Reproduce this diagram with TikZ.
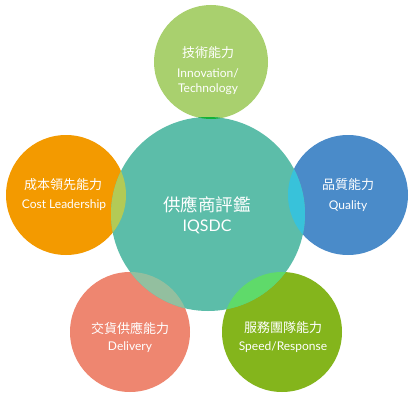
\documentclass[tikz,border=0pt]{standalone}
\usepackage{fontspec}
\setmainfont{Lato}
\newfontfamily\cjk{Noto Sans CJK TC}
\definecolor{cTop}{HTML}{A9D06E}
\definecolor{cTopO}{HTML}{12B13A}
\definecolor{cMid}{HTML}{5CBDA9}
\definecolor{cLeft}{HTML}{F39A00}
\definecolor{cLeftO}{HTML}{B3CA56}
\definecolor{cRight}{HTML}{4A8BC9}
\definecolor{cRightO}{HTML}{38C2DA}
\definecolor{cBL}{HTML}{EE8670}
\definecolor{cBLO}{HTML}{93BF9F}
\definecolor{cBR}{HTML}{84B51C}
\definecolor{cBRO}{HTML}{5FDA6A}
\tikzset{
  zh/.style={text=white, font=\cjk\fontsize{13}{15}\selectfont, inner sep=0pt},
  en/.style={text=white, font=\fontsize{12}{14}\selectfont, inner sep=0pt},
}
\begin{document}
\begin{tikzpicture}[x=1pt,y=-1pt]
\useasboundingbox (0,0) rectangle (420,420);
\fill[white] (0,0) rectangle (420,420);
% circles
\coordinate (pM) at (208,214);
\coordinate (pT) at (211,62);
\coordinate (pL) at (66,195);
\coordinate (pR) at (348,195);
\coordinate (pBL) at (130,332);
\coordinate (pBR) at (282,332);
\fill[cTop] (pT) circle[radius=57];
\fill[cLeft] (pL) circle[radius=60];
\fill[cRight] (pR) circle[radius=60];
\fill[cBL] (pBL) circle[radius=60];
\fill[cBR] (pBR) circle[radius=60];
\fill[cMid] (pM) circle[radius=97];
% overlaps
\begin{scope}
  \clip (pM) circle[radius=97];
  \fill[cTopO] (pT) circle[radius=57];
  \fill[cLeftO] (pL) circle[radius=60];
  \fill[cRightO] (pR) circle[radius=60];
  \fill[cBLO] (pBL) circle[radius=60];
  \fill[cBRO] (pBR) circle[radius=60];
\end{scope}
% texts
\node[zh] (tT1) at (208,53) {技術能力};
\node[en] (tT2) at (208,73) {Innovation/};
\node[en] (tT3) at (208,89) {Technology};
\node[zh] (tL1) at (63,185) {成本領先能力};
\node[en] (tL2) at (64,205) {Cost Leadership};
\node[zh] (tR1) at (348,185) {品質能力};
\node[en] (tR2) at (348,206) {Quality};
\node[zh] (tBL1) at (130,328) {交貨供應能力};
\node[en] (tBL2) at (130,347) {Delivery};
\node[zh] (tBR1) at (283,328) {服務團隊能力};
\node[en] (tBR2) at (283,347) {Speed/Response};
\node[zh, font=\cjk\fontsize{17.5}{20}\selectfont] (tM1) at (207,205) {供應商評鑑};
\node[en, font=\fontsize{16}{18}\selectfont] (tM2) at (207,227) {IQSDC};
\end{tikzpicture}
\end{document}
